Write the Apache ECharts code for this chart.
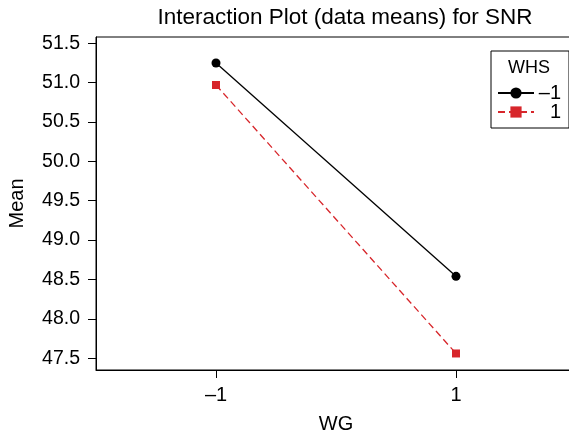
<!DOCTYPE html>
<html>
<head>
<meta charset="utf-8">
<script src="https://cdn.jsdelivr.net/npm/echarts@6/dist/echarts.min.js"></script>
<style>html,body{margin:0;padding:0;background:#fff;}#c{width:569px;height:438px;}</style>
</head>
<body>
<div id="c"></div>
<script>
var categories = [-1, 1];
var seriesNames = ['\u20131', '1'];
var whsNeg = [51.25, 48.54];
var whsPos = [50.97, 47.56];
var yTicks = [47.5, 48.0, 48.5, 49.0, 49.5, 50.0, 50.5, 51.0, 51.5];
var xTicks = [-1, 1];

var font = 'Liberation Sans, Arial, sans-serif';
function fmtX(v){ return v < 0 ? '\u2013' + Math.abs(v) : String(v); }

var chart = echarts.init(document.getElementById('c'), null, {renderer: 'canvas'});
chart.setOption({
  animation: false,
  backgroundColor: '#fff',
  title: {
    text: 'Interaction Plot (data means) for SNR',
    left: 340, textAlign: 'center', top: 1,
    textStyle: {fontFamily: font, fontSize: 22.5, fontWeight: 'normal', color: '#000'}
  },
  grid: {left: 96, top: 37, width: 480, height: 333, show: true, borderColor: '#000', borderWidth: 1,
         outerBoundsMode: 'none', containLabel: false},
  xAxis: {
    type: 'value', min: -2, max: 2,
    name: 'WG', nameLocation: 'middle', nameGap: 44,
    nameTextStyle: {fontFamily: font, fontSize: 20, color: '#000'},
    axisLine: {show: true, onZero: false, lineStyle: {color: '#000', width: 1}},
    axisTick: {show: true, length: 8, inside: false, customValues: xTicks, lineStyle: {color: '#000'}},
    axisLabel: {customValues: xTicks, formatter: fmtX, margin: 15, fontFamily: font, fontSize: 20, color: '#000'},
    splitLine: {show: false}
  },
  yAxis: {
    type: 'value', min: 47.35, max: 51.58,
    name: 'Mean', nameLocation: 'middle', nameGap: 69,
    nameTextStyle: {fontFamily: font, fontSize: 20, color: '#000'},
    axisLine: {show: true, onZero: false, lineStyle: {color: '#000', width: 1}},
    axisTick: {show: true, length: 8, customValues: yTicks, lineStyle: {color: '#000'}},
    axisLabel: {customValues: yTicks, formatter: function(v){return v.toFixed(1);}, margin: 16, fontFamily: font, fontSize: 19.5, color: '#000'},
    splitLine: {show: false}
  },
  legend: {
    left: 491, top: 51, orient: 'vertical',
    padding: [32, 8, 6, 6],
    itemWidth: 36, itemHeight: 14, itemGap: -1,
    borderColor: '#000', borderWidth: 1,
    data: seriesNames,
    formatter: function(n){ return '{a|' + n + '}'; },
    textStyle: {fontFamily: font, fontSize: 20, color: '#000',
      rich: {a: {width: 22, align: 'right', fontFamily: font, fontSize: 20}}}
  },
  graphic: [{
    type: 'text', left: 508, top: 59,
    style: {text: 'WHS', fontFamily: font, fontSize: 18, fill: '#000'}
  }],
  series: [
    {
      name: seriesNames[0], type: 'line',
      data: categories.map(function(c, i){ return [c, whsNeg[i]]; }),
      symbol: 'circle', symbolSize: 9,
      lineStyle: {color: '#000', width: 1.3},
      itemStyle: {color: '#000'}
    },
    {
      name: seriesNames[1], type: 'line',
      data: categories.map(function(c, i){ return [c, whsPos[i]]; }),
      symbol: 'rect', symbolSize: 8,
      lineStyle: {color: '#d7262b', width: 1.3, type: [7, 4]},
      itemStyle: {color: '#d7262b'}
    }
  ]
});
</script>
</body>
</html>
